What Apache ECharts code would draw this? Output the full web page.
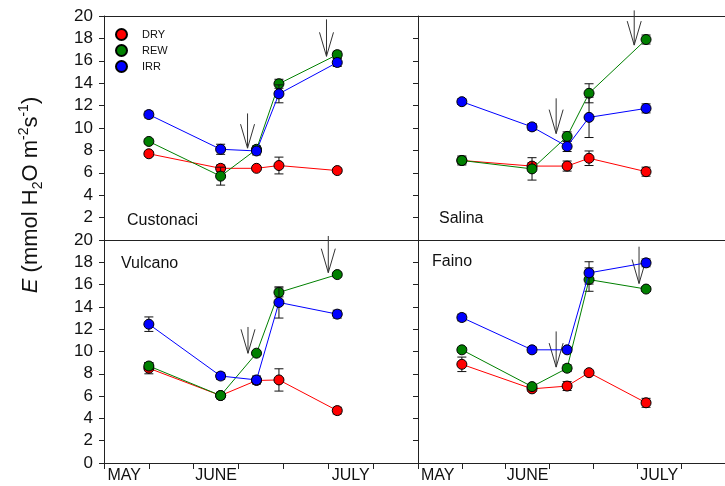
<!DOCTYPE html>
<html><head><meta charset="utf-8">
<script src="https://cdn.jsdelivr.net/npm/echarts@6/dist/echarts.min.js"></script>
<style>html,body{margin:0;padding:0;background:#fff}#c{width:725px;height:486px}</style>
</head><body><div id="c"></div>
<script>
// ---------- data ----------
const sampleX = [1, 2.6, 3.4, 3.9, 5.2];
const monthLabels = ['MAY', 'JUNE', 'JULY'];
const monthLabelPos = [0.45, 2.5, 5.5];
const xTicks = [0, 1, 2, 3, 4, 5, 6, 7];
const siteNames = ['Custonaci', 'Salina', 'Vulcano', 'Faino'];
const treatments = ['DRY', 'REW', 'IRR'];

const custonaciDry = [7.7, 6.4, 6.4, 6.65, 6.2];
const custonaciDryErr = [0.2, 0.3, 0.2, 0.75, 0.2];
const custonaciRew = [8.8, 5.7, 8.1, 13.95, 16.55];
const custonaciRewErr = [0.2, 0.8, 0.3, 0.4, 0.3];
const custonaciIrr = [11.2, 8.1, 7.95, 13.05, 15.85];
const custonaciIrrErr = [0.3, 0.45, 0.35, 0.8, 0.35];

const salinaDry = [7.1, 6.6, 6.6, 7.3, 6.1];
const salinaDryErr = [0.3, 0.3, 0.45, 0.65, 0.4];
const salinaRew = [7.1, 6.35, 9.25, 13.1, 17.9];
const salinaRewErr = [0.4, 1.0, 0.4, 0.85, 0.4];
const salinaIrr = [12.35, 10.1, 8.35, 10.95, 11.75];
const salinaIrrErr = [0.25, 0.3, 0.45, 1.8, 0.4];

const vulcanoDry = [8.5, 6.05, 7.4, 7.45, 4.7];
const vulcanoDryErr = [0.5, 0.3, 0.3, 1.0, 0.3];
const vulcanoRew = [8.7, 6.05, 9.85, 15.3, 16.9];
const vulcanoRewErr = [0.3, 0.2, 0.2, 0.4, 0.2];
const vulcanoIrr = [12.45, 7.8, 7.45, 14.4, 13.35];
const vulcanoIrrErr = [0.65, 0.3, 0.35, 1.4, 0.35];

const fainoDry = [8.85, 6.65, 6.9, 8.1, 5.4];
const fainoDryErr = [0.65, 0.2, 0.4, 0.2, 0.4];
const fainoRew = [10.15, 6.85, 8.5, 16.45, 15.6];
const fainoRewErr = [0.2, 0.2, 0.3, 1.05, 0.2];
const fainoIrr = [13.05, 10.15, 10.15, 17.05, 17.95];
const fainoIrrErr = [0.3, 0.25, 0.2, 1.0, 0.35];

// arrows: [x, start value, tip value]
const custonaciArrows = [[3.2, 11.3, 8.2], [4.96, 19.7, 16.4]];
const salinaArrows = [[3.15, 12.65, 9.5], [4.93, 20.5, 17.4]];
const vulcanoArrows = [[3.21, 12.2, 9.84], [5.0, 20.36, 17.07]];
const fainoArrows = [[3.15, 11.8, 8.6], [5.04, 19.4, 16.1]];

// ---------- build ----------
const FONT = 'Arial, "Liberation Sans", Helvetica, sans-serif';
const colors = ['#ff0000', '#008000', '#0000ff'];
const AX = '#222';
const sites = [
  { vals: [custonaciDry, custonaciRew, custonaciIrr], errs: [custonaciDryErr, custonaciRewErr, custonaciIrrErr], arrows: custonaciArrows },
  { vals: [salinaDry, salinaRew, salinaIrr], errs: [salinaDryErr, salinaRewErr, salinaIrrErr], arrows: salinaArrows },
  { vals: [vulcanoDry, vulcanoRew, vulcanoIrr], errs: [vulcanoDryErr, vulcanoRewErr, vulcanoIrrErr], arrows: vulcanoArrows },
  { vals: [fainoDry, fainoRew, fainoIrr], errs: [fainoDryErr, fainoRewErr, fainoIrrErr], arrows: fainoArrows }
];

const grids = [
  { left: 104, top: 16, width: 314, height: 224 },
  { left: 418, top: 16, width: 314, height: 224 },
  { left: 104, top: 240, width: 314, height: 223 },
  { left: 418, top: 240, width: 314, height: 223 }
];

const xAxes = [], yAxes = [];
grids.forEach((g, i) => {
  const bottomRow = i >= 2;
  xAxes.push({
    gridIndex: i, type: 'value', min: 0, max: 7, interval: 1, position: 'bottom',
    axisLine: { show: true, lineStyle: { color: AX, width: 1 } },
    axisTick: bottomRow ? { show: true, customValues: xTicks, length: 6, lineStyle: { color: AX } } : { show: false },
    axisLabel: bottomRow ? {
      show: true, customValues: monthLabelPos, margin: 5,
      formatter: v => monthLabels[monthLabelPos.indexOf(v)] || '',
      fontFamily: FONT, fontSize: 16, color: '#111'
    } : { show: false },
    splitLine: { show: false }
  });
  if (!bottomRow) {
    xAxes.push({
      gridIndex: i, type: 'value', min: 0, max: 7, position: 'top',
      axisLine: { show: true, lineStyle: { color: AX, width: 1 } },
      axisTick: { show: false }, axisLabel: { show: false }, splitLine: { show: false }
    });
  }
  const leftCol = i % 2 === 0;
  yAxes.push({
    gridIndex: i, type: 'value', min: 0, max: 20, interval: 2,
    axisLine: { show: true, lineStyle: { color: AX, width: 1 } },
    axisTick: { show: true, length: 5, lineStyle: { color: AX } },
    axisLabel: leftCol ? {
      show: true, margin: 11, fontFamily: FONT, fontSize: 17, color: '#111',
      formatter: v => (i === 0 && v === 0) ? '' : String(v)
    } : { show: false },
    splitLine: { show: false }
  });
});
// map grid -> main x axis index
const xIdx = [0, 2, 4, 5];

const series = [];
sites.forEach((s, gi) => {
  // arrows
  series.push({
    type: 'custom', xAxisIndex: xIdx[gi], yAxisIndex: gi, z: 1, silent: true,
    data: s.arrows,
    renderItem: (params, api) => {
      const p1 = api.coord([api.value(0), api.value(1)]);
      const p2 = api.coord([api.value(0), api.value(2)]);
      const hl = Math.min(24, Math.abs(p2[1] - p1[1]));
      const hw = 7;
      const st = { stroke: '#333', lineWidth: 1, fill: null };
      return {
        type: 'group', children: [
          { type: 'line', shape: { x1: p1[0], y1: p1[1], x2: p2[0], y2: p2[1] }, style: st },
          { type: 'polyline', shape: { points: [[p2[0] - hw, p2[1] - hl], [p2[0], p2[1]], [p2[0] + hw, p2[1] - hl]] }, style: st }
        ]
      };
    }
  });
  treatments.forEach((t, ti) => {
    // error bars
    series.push({
      type: 'custom', xAxisIndex: xIdx[gi], yAxisIndex: gi, z: 2 + ti * 2, silent: true,
      data: sampleX.map((x, k) => [x, s.vals[ti][k], s.errs[ti][k]]),
      renderItem: (params, api) => {
        const x = api.value(0), y = api.value(1), e = api.value(2);
        const hi = api.coord([x, y + e]);
        const lo = api.coord([x, y - e]);
        const cw = 4.5;
        const st = { stroke: '#111', lineWidth: 1 };
        return {
          type: 'group', children: [
            { type: 'line', shape: { x1: hi[0], y1: hi[1], x2: lo[0], y2: lo[1] }, style: st },
            { type: 'line', shape: { x1: hi[0] - cw, y1: hi[1], x2: hi[0] + cw, y2: hi[1] }, style: st },
            { type: 'line', shape: { x1: lo[0] - cw, y1: lo[1], x2: lo[0] + cw, y2: lo[1] }, style: st }
          ]
        };
      }
    });
    series.push({
      name: t, type: 'line', xAxisIndex: xIdx[gi], yAxisIndex: gi, z: 3 + ti * 2,
      data: sampleX.map((x, k) => [x, s.vals[ti][k]]),
      symbol: 'circle', symbolSize: 10, showSymbol: true, animation: false,
      lineStyle: { color: colors[ti], width: 1 },
      itemStyle: { color: colors[ti], borderColor: '#000', borderWidth: 1 },
      emphasis: { disabled: true }
    });
  });
});

const panelLabelPos = [[127, 221], [439, 219], [121, 264], [432, 262]];
const graphic = siteNames.map((n, i) => ({
  type: 'text', x: panelLabelPos[i][0], y: panelLabelPos[i][1], silent: true,
  style: { text: n, font: '16px ' + FONT, fill: '#111', verticalAlign: 'middle', align: 'left' }
}));
graphic.push({
  type: 'text', x: 31, y: 195, rotation: Math.PI / 2, silent: true,
  style: {
    text: '{i|E} (mmol H{sub|2}O m{sup|-2}s{sup|-1})',
    font: '22px ' + FONT, fill: '#111', align: 'center', verticalAlign: 'middle',
    lineHeight: 28,
    rich: {
      i: { fontStyle: 'italic', fontSize: 22, fontFamily: FONT, lineHeight: 22 },
      sub: { fontSize: 14, fontFamily: FONT, verticalAlign: 'bottom', lineHeight: 14 },
      sup: { fontSize: 14, fontFamily: FONT, verticalAlign: 'top', lineHeight: 14 }
    }
  }
});

const chart = echarts.init(document.getElementById('c'), null, { renderer: 'canvas' });
chart.setOption({
  animation: false,
  backgroundColor: '#fff',
  grid: grids,
  xAxis: xAxes,
  yAxis: yAxes,
  legend: {
    data: treatments, orient: 'vertical', left: 110, top: 23,
    icon: 'circle', itemWidth: 11, itemHeight: 11, itemGap: 3,
    selectedMode: false,
    textStyle: { fontFamily: FONT, fontSize: 11, color: '#111', padding: [0, 0, 0, 10] }
  },
  series: series,
  graphic: graphic
});
</script></body></html>
